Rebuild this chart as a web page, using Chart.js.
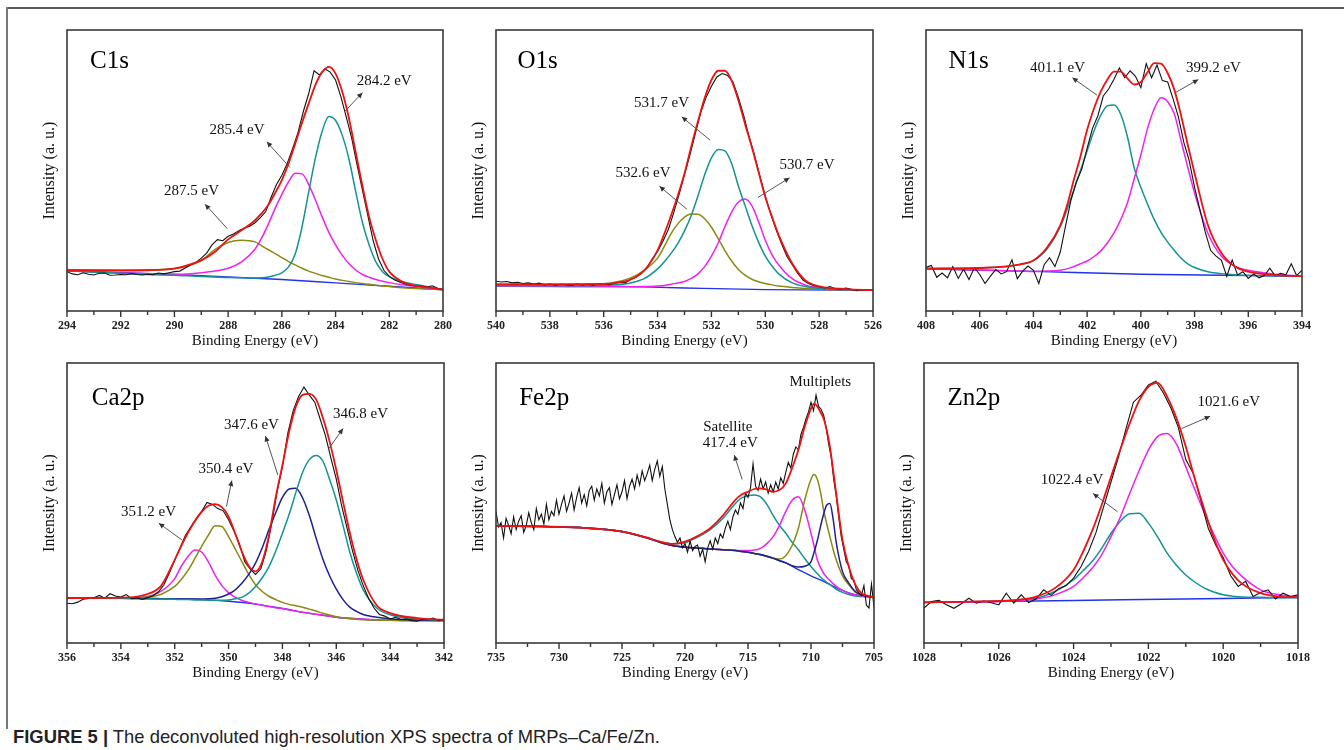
<!DOCTYPE html>
<html>
<head>
<meta charset="utf-8">
<title>FIGURE 5 - XPS spectra of MRPs–Ca/Fe/Zn</title>
<script src="https://cdn.jsdelivr.net/npm/chart.js@4.4.1/dist/chart.umd.min.js"></script>
<style>
  html, body { margin: 0; padding: 0; background: #fff; }
  body { width: 1344px; height: 750px; position: relative; overflow: hidden; }
  canvas { position: absolute; }
  .rule-top { position: absolute; left: 7px; top: 7px; width: 1337px; height: 2px; background: #5a5a5a; }
  .rule-left { position: absolute; left: 6px; top: 7px; width: 2px; height: 722px; background: #777; }
  .caption { position: absolute; left: 13px; top: 727px; font: 18.4px "Liberation Sans", Arial, sans-serif; color: #222; line-height: 20px; white-space: nowrap; }
  .caption b { font-weight: bold; }
</style>
</head>
<body>
<div class="rule-top"></div>
<div class="rule-left"></div>

<canvas id="c1s"  width="433" height="335" style="left:27px;top:20px"></canvas>
<canvas id="o1s"  width="434" height="335" style="left:456px;top:20px"></canvas>
<canvas id="n1s"  width="433" height="335" style="left:886px;top:20px"></canvas>
<canvas id="ca2p" width="434" height="334" style="left:27px;top:353px"></canvas>
<canvas id="fe2p" width="435" height="334" style="left:456px;top:353px"></canvas>
<canvas id="zn2p" width="434" height="334" style="left:884px;top:353px"></canvas>

<div class="caption"><b>FIGURE 5 |</b> The deconvoluted high-resolution XPS spectra of MRPs–Ca/Fe/Zn.</div>

<script>
// ---- values (intensity in % of plot height) ----

// C1s
const c1sTicks = [294, 292, 290, 288, 286, 284, 282, 280];
const c1sFitEv = [294, 292, 291, 290, 289.5, 289, 288.5, 288, 287.5, 287, 286.75, 286.5, 286.25, 286, 285.75, 285.5, 285.25, 285, 284.75, 284.5, 284.25, 284, 283.75, 283.5, 283.25, 283, 282.75, 282.5, 282.25, 282, 281.5, 281, 280.5, 280];
const c1sEnvelope = [14.5, 14.4, 14.5, 15.1, 16.3, 18.0, 21.0, 25.5, 28.7, 32.3, 34.8, 37.8, 42.0, 46.6, 52.5, 59.6, 67.0, 73.9, 80.5, 85.0, 86.9, 84.5, 78.0, 68.5, 56.5, 44.5, 33.5, 25.2, 18.5, 14.0, 10.4, 8.9, 8.3, 7.6];
const c1sPeak2842 = [14.3, 13.4, 13.0, 12.7, 12.5, 12.3, 12.1, 11.9, 11.8, 11.7, 11.8, 12.1, 12.7, 13.6, 15.7, 20.4, 29.9, 42.4, 54.5, 64.0, 69.2, 67.8, 62.5, 54.0, 42.5, 31.5, 23.5, 17.5, 14.0, 12.2, 10.4, 9.4, 8.5, 7.6];
const c1sPeak2854 = [14.3, 13.5, 13.3, 13.1, 13.2, 13.6, 14.2, 15.2, 17.5, 22.0, 26.0, 31.0, 36.5, 41.5, 46.0, 49.0, 48.8, 45.0, 39.5, 33.5, 28.0, 23.5, 19.8, 16.8, 14.6, 13.0, 12.0, 11.2, 10.6, 10.1, 9.3, 8.7, 8.2, 7.8];
const c1sPeak2875 = [14.7, 14.6, 14.6, 15.1, 16.0, 18.0, 21.8, 24.4, 25.2, 24.6, 23.2, 21.8, 20.4, 19.0, 17.6, 16.4, 15.2, 14.2, 13.4, 12.6, 12.0, 11.4, 10.9, 10.5, 10.1, 9.8, 9.5, 9.2, 8.9, 8.7, 8.3, 8.0, 7.8, 7.6];
const c1sBaseEv = [294, 290, 286, 284, 282, 280];
const c1sBase = [14.3, 13.0, 11.2, 10.0, 8.8, 7.6];
const c1sRawStart = 294, c1sRawStep = -0.2;
const c1sRaw = [14.0, 13.2, 12.9, 13.6, 13.1, 12.8, 13.4, 13.5, 12.7, 12.8,
  13.0, 12.9, 13.3, 13.0, 12.8, 13.1, 12.9, 13.5, 13.2, 13.6,
  14.0, 14.2, 15.3, 16.4, 17.3, 18.8, 20.6, 23.5, 25.4, 25.0,
  26.6, 27.4, 28.6, 29.5, 30.2, 31.4, 33.2, 35.4, 40.5, 45.0,
  48.3, 52.5, 57.8, 63.5, 71.0, 77.4, 85.5, 84.0, 86.2, 85.0,
  82.2, 76.2, 69.0, 61.5, 52.0, 43.0, 34.0, 25.0, 18.5, 14.5,
  12.3, 11.0, 10.2, 9.6, 9.2, 9.0, 8.9, 8.5, 9.0, 8.1,
  7.6];

// O1s
const o1sTicks = [540, 538, 536, 534, 532, 530, 528, 526];
const o1sFitEv = [540, 538, 536, 535.5, 535, 534.5, 534, 533.75, 533.5, 533.25, 533, 532.75, 532.5, 532.25, 532, 531.75, 531.5, 531.25, 531, 530.75, 530.5, 530.25, 530, 529.75, 529.5, 529, 528.5, 528, 527, 526];
const o1sEnvelope = [9.5, 9.5, 9.6, 10.1, 11.2, 14.4, 21.6, 27.5, 34.0, 41.0, 48.9, 58.5, 67.5, 75.8, 82.2, 85.5, 85.5, 82.0, 75.0, 66.5, 58.4, 49.5, 40.6, 33.5, 27.0, 16.9, 10.8, 8.8, 7.8, 7.4];
const o1sPeak5326 = [9.5, 9.5, 9.7, 10.4, 11.8, 14.5, 18.8, 23.0, 27.5, 31.0, 33.4, 34.5, 34.4, 32.8, 29.8, 25.8, 21.5, 17.8, 14.8, 12.8, 11.3, 10.4, 9.8, 9.3, 8.9, 8.4, 8.0, 7.7, 7.5, 7.4];
const o1sPeak5317 = [9.0, 9.0, 9.1, 9.4, 10.0, 11.5, 15.0, 17.5, 20.5, 24.0, 28.5, 34.0, 41.0, 48.5, 54.5, 57.5, 57.0, 52.5, 44.5, 37.5, 30.5, 24.5, 19.5, 16.0, 13.2, 10.0, 8.7, 8.0, 7.6, 7.4];
const o1sPeak5307 = [8.8, 8.7, 8.6, 8.6, 8.6, 8.7, 8.9, 9.1, 9.5, 10.0, 10.5, 11.6, 13.2, 15.8, 19.5, 24.2, 30.0, 35.2, 38.8, 39.9, 37.5, 31.8, 25.2, 20.0, 16.4, 11.5, 9.2, 8.3, 7.6, 7.4];
const o1sBaseEv = [540, 536, 533, 530, 526];
const o1sBase = [9.3, 8.9, 8.2, 7.6, 7.4];
const o1sRawStart = 540, o1sRawStep = -0.2;
const o1sRaw = [10.6, 10.3, 10.5, 10.0, 10.2, 9.8, 10.0, 9.6, 9.9, 9.3,
  9.6, 9.2, 9.5, 9.4, 9.1, 9.6, 9.3, 9.5, 9.2, 9.6,
  9.8, 9.4, 9.9, 10.2, 10.0, 11.2, 12.0, 13.5, 15.3, 18.5,
  21.2, 24.8, 29.0, 35.0, 41.5, 48.5, 55.5, 63.0, 70.5, 76.0,
  80.0, 83.3, 84.5, 83.8, 81.5, 76.0, 69.5, 62.0, 55.5, 48.0,
  41.0, 34.5, 29.0, 24.0, 19.5, 16.5, 13.5, 11.0, 9.8, 9.0,
  8.6, 8.2, 8.7, 7.9, 7.8, 8.2, 7.7, 7.2, 7.6, 7.3,
  7.4];

// N1s
const n1sTicks = [408, 406, 404, 402, 400, 398, 396, 394];
const n1sFitEv = [408, 406, 405, 404.5, 404, 403.5, 403, 402.75, 402.5, 402.25, 402, 401.75, 401.5, 401.25, 401, 400.75, 400.5, 400.25, 400, 399.75, 399.5, 399.25, 399, 398.75, 398.5, 398.25, 398, 397.5, 397, 396.5, 396, 395, 394];
const n1sEnvelope = [15.1, 15.3, 15.9, 16.6, 18.0, 22.5, 30.5, 37.5, 46.5, 55.0, 64.5, 72.0, 78.0, 82.3, 85.2, 85.2, 82.8, 80.6, 81.5, 85.0, 88.2, 88.0, 84.6, 78.6, 69.5, 59.0, 49.0, 30.5, 20.6, 15.8, 14.0, 12.8, 12.4];
const n1sPeak4011 = [15.1, 15.3, 15.8, 16.5, 18.0, 22.0, 30.0, 36.0, 43.0, 50.0, 57.0, 64.0, 69.5, 73.0, 73.3, 70.0, 62.0, 51.0, 44.0, 38.0, 32.5, 28.0, 24.5, 21.5, 18.8, 16.8, 15.5, 14.0, 13.3, 12.9, 12.7, 12.5, 12.4];
const n1sPeak3992 = [15.1, 14.6, 14.3, 14.2, 14.1, 14.2, 14.5, 15.0, 15.8, 16.8, 17.8, 19.3, 21.3, 24.2, 27.8, 32.5, 38.5, 47.0, 55.5, 65.0, 72.0, 75.9, 74.5, 70.0, 60.5, 51.0, 42.0, 27.6, 19.5, 16.0, 14.5, 13.1, 12.4];
const n1sBaseEv = [408, 404, 400, 396, 394];
const n1sBase = [15.0, 14.1, 13.1, 12.6, 12.4];
const n1sRawStart = 408, n1sRawStep = -0.2;
const n1sRaw = [15.5, 16.2, 12.0, 13.5, 11.8, 15.8, 11.6, 14.9, 11.2, 15.4,
  13.0, 9.8, 12.4, 14.8, 13.2, 14.0, 18.2, 11.5, 14.2, 16.0,
  14.5, 9.8, 16.5, 19.0, 15.8, 21.0, 30.5, 39.5, 46.0, 50.5,
  58.0, 65.0, 69.5, 76.5, 79.0, 82.5, 86.5, 83.0, 85.5, 83.5,
  79.5, 88.0, 83.0, 87.5, 82.0, 81.5, 75.5, 69.0, 60.0, 53.5,
  44.0, 36.0, 28.0, 21.5, 19.5, 18.0, 12.3, 18.2, 12.8, 14.0,
  11.6, 13.2, 11.8, 12.6, 15.2, 12.5, 13.4, 12.9, 16.8, 12.6,
  14.5];

// Ca2p
const ca2pTicks = [356, 354, 352, 350, 348, 346, 344, 342];
const ca2pFitEv = [356, 354, 353, 352.5, 352, 351.75, 351.5, 351.25, 351, 350.75, 350.5, 350.25, 350, 349.75, 349.5, 349.25, 349, 348.75, 348.5, 348.25, 348, 347.75, 347.5, 347.25, 347, 346.75, 346.5, 346.25, 346, 345.75, 345.5, 345.25, 345, 344.5, 344, 343, 342];
const ca2pEnvelope = [16.0, 16.2, 17.5, 20.5, 29.7, 34.8, 39.5, 43.5, 46.8, 49.0, 49.6, 48.5, 45.1, 39.0, 32.5, 27.5, 25.6, 29.0, 38.5, 52.0, 63.5, 75.5, 84.5, 88.6, 89.0, 87.0, 80.5, 72.0, 61.8, 50.5, 39.5, 30.0, 22.6, 13.5, 10.7, 8.9, 8.3];
const ca2pPeak3512 = [16.0, 16.0, 16.6, 18.5, 23.0, 27.5, 31.0, 33.2, 32.5, 29.0, 24.2, 20.5, 18.0, 16.3, 15.2, 14.5, 13.9, 13.5, 13.0, 12.6, 12.3, 11.8, 11.4, 11.0, 10.6, 10.3, 10.0, 9.6, 9.2, 9.0, 8.8, 8.6, 8.5, 8.3, 8.1, 8.0, 8.0];
const ca2pPeak3504 = [16.0, 16.0, 16.4, 17.4, 20.2, 22.8, 26.0, 30.2, 34.5, 38.5, 41.9, 41.6, 38.0, 33.5, 29.0, 24.5, 20.8, 18.4, 16.7, 15.5, 14.5, 13.8, 13.3, 12.8, 12.1, 11.4, 10.6, 10.0, 9.4, 9.0, 8.7, 8.5, 8.3, 8.2, 8.1, 8.0, 8.0];
const ca2pPeak3476 = [16.0, 16.0, 15.9, 15.8, 15.8, 15.7, 15.7, 15.7, 15.7, 15.8, 16.0, 16.5, 17.5, 19.0, 21.4, 24.5, 28.5, 34.0, 40.5, 46.5, 52.0, 55.0, 55.3, 51.8, 45.5, 37.5, 30.0, 24.0, 19.2, 15.5, 12.8, 11.3, 10.2, 9.2, 8.7, 8.2, 8.0];
const ca2pPeak3468 = [16.0, 16.0, 15.8, 15.7, 15.6, 15.5, 15.5, 15.4, 15.4, 15.3, 15.3, 15.3, 15.4, 15.8, 16.4, 17.8, 20.2, 23.3, 27.3, 32.8, 39.2, 46.0, 53.8, 61.0, 65.5, 67.0, 65.0, 58.5, 51.1, 42.0, 32.5, 25.0, 19.0, 12.5, 10.1, 8.6, 8.1];
const ca2pBaseEv = [356, 352, 351, 350, 349, 348, 347, 346, 345, 344, 342];
const ca2pBase = [16.0, 15.8, 15.5, 14.9, 13.9, 12.3, 10.6, 9.2, 8.5, 8.1, 8.0];
const ca2pRawStart = 356, ca2pRawStep = -0.2;
const ca2pRaw = [14.2, 14.0, 14.6, 15.6, 15.9, 16.2, 17.0, 16.0, 17.6, 16.8,
  16.4, 17.3, 15.8, 16.1, 15.6, 16.2, 17.0, 18.3, 20.8, 25.0,
  29.5, 34.0, 38.5, 41.5, 44.5, 47.0, 50.2, 49.5, 48.0, 47.2,
  44.0, 40.0, 35.5, 29.0, 26.5, 24.5, 26.5, 33.0, 42.5, 54.0,
  63.0, 75.0, 83.0, 88.0, 91.4, 88.5, 86.0, 80.0, 74.0, 66.0,
  58.5, 49.0, 41.0, 33.0, 26.0, 20.5, 16.0, 12.5, 10.2, 9.6,
  8.6, 9.2, 8.4, 8.6, 8.0, 7.8, 8.5, 8.3, 8.9, 8.0,
  8.4];

// Fe2p
const fe2pTicks = [735, 730, 725, 720, 715, 710, 705];
const fe2pFitEv = [735, 730, 727, 725, 723, 722, 721, 720, 719, 718, 717, 716, 715.5, 715, 714.5, 714, 713.5, 713, 712.5, 712, 711.5, 711, 710.5, 710, 709.75, 709.5, 709.25, 709, 708.75, 708.5, 708.25, 708, 707.5, 707, 706.5, 706, 705];
const fe2pEnvelope = [41.8, 41.5, 40.8, 39.8, 37.6, 36.2, 35.4, 36.2, 38.2, 41.0, 45.5, 51.1, 53.0, 54.0, 55.0, 55.2, 54.8, 54.0, 54.6, 57.0, 62.5, 68.9, 77.2, 83.7, 85.5, 84.5, 82.5, 80.2, 76.0, 70.1, 62.0, 53.4, 36.8, 27.3, 21.0, 17.8, 16.4];
const fe2pSatellite = [41.8, 41.5, 40.8, 39.8, 37.6, 36.2, 35.4, 35.8, 37.8, 40.5, 44.5, 49.8, 51.8, 52.6, 52.9, 52.2, 49.5, 45.5, 42.0, 39.2, 36.0, 33.3, 30.2, 27.3, 26.0, 24.8, 23.6, 22.6, 21.7, 20.9, 20.0, 19.2, 18.1, 17.3, 16.8, 16.6, 16.4];
const fe2pMulti1 = [41.8, 41.5, 40.8, 39.8, 37.5, 36.0, 34.8, 34.2, 33.9, 33.6, 33.3, 33.1, 33.0, 33.0, 33.2, 33.8, 35.5, 38.0, 42.0, 47.0, 51.0, 52.2, 47.5, 39.2, 34.5, 29.7, 27.0, 24.9, 23.5, 22.3, 21.2, 20.2, 18.8, 17.8, 17.2, 16.9, 16.4];
const fe2pMulti2 = [41.8, 41.5, 40.8, 39.8, 37.5, 36.0, 34.8, 34.2, 33.9, 33.6, 33.3, 33.0, 32.7, 32.4, 32.0, 31.6, 31.0, 30.3, 30.0, 31.2, 34.8, 41.0, 51.0, 58.5, 60.2, 58.5, 54.0, 47.5, 42.5, 38.0, 33.5, 29.7, 24.0, 20.8, 18.2, 17.2, 16.4];
const fe2pMulti3 = [41.8, 41.5, 40.8, 39.8, 37.5, 36.0, 34.8, 34.2, 33.9, 33.6, 33.3, 33.0, 32.7, 32.4, 32.0, 31.6, 31.0, 30.3, 29.4, 28.6, 27.6, 27.1, 27.4, 29.0, 32.5, 36.5, 41.5, 46.0, 49.3, 49.8, 44.5, 36.0, 25.5, 21.4, 18.5, 17.2, 16.4];
const fe2pBaseEv = [735, 730, 727, 725, 723, 721, 720, 718, 716, 714, 713, 712, 711, 710, 709, 708, 707, 706, 705];
const fe2pBase = [41.8, 41.5, 40.8, 39.8, 37.5, 34.8, 34.2, 33.6, 33.0, 31.5, 30.2, 28.6, 26.2, 24.0, 22.0, 19.8, 17.9, 16.8, 16.4];
const fe2pRawStart = 735, fe2pRawStep = -0.2;
const fe2pRaw = [47.0, 41.5, 43.0, 37.5, 44.5, 42.0, 39.0, 45.0, 40.5, 43.5,
  45.5, 39.5, 42.0, 46.5, 43.0, 40.5, 48.0, 44.0, 46.0, 42.5,
  49.5, 44.0, 47.0, 45.5, 51.0, 46.0, 49.5, 52.5, 47.0, 50.0,
  53.5, 47.5, 52.0, 55.5, 50.0, 53.0, 49.0, 54.5, 56.0, 51.0,
  55.0, 52.5, 57.0, 50.0, 54.0, 55.5, 49.5, 53.0, 56.5, 51.5,
  54.0, 58.0, 51.5, 56.0, 58.5, 55.0, 60.0, 56.5, 61.5, 58.0,
  60.5, 63.5, 58.0, 62.0, 65.0, 59.5, 63.0, 55.0, 49.5, 44.0,
  40.5, 38.0, 36.0, 37.5, 34.0, 35.5, 32.5, 36.5, 33.0, 34.5,
  35.0, 31.0, 33.5, 29.0, 34.0, 36.5, 33.5, 37.5, 35.5, 39.0,
  37.5, 41.0, 43.5, 40.5, 45.0, 47.5, 46.0, 50.0, 48.0, 53.5,
  52.0, 55.5, 64.0, 56.0, 54.5, 58.5, 55.0, 57.5, 53.5, 56.5,
  54.0, 57.5, 55.0, 59.0, 57.0, 61.0, 64.5, 62.5, 67.5, 70.0,
  69.0, 74.5, 77.0, 80.0, 82.5, 86.0, 83.0, 88.5, 84.5, 83.5,
  81.5, 77.0, 71.0, 66.5, 58.5, 52.5, 45.0, 38.0, 33.5, 29.0,
  27.5, 23.0, 22.5, 19.0, 18.0, 17.0, 20.5, 13.5, 12.5, 21.0,
  12.8];

// Zn2p
const zn2pTicks = [1028, 1026, 1024, 1022, 1020, 1018];
const zn2pFitEv = [1028, 1027, 1026, 1025.5, 1025, 1024.5, 1024, 1023.75, 1023.5, 1023.25, 1023, 1022.75, 1022.5, 1022.25, 1022, 1021.75, 1021.5, 1021.25, 1021, 1020.75, 1020.5, 1020.25, 1020, 1019.75, 1019.5, 1019, 1018.5, 1018];
const zn2pEnvelope = [14.5, 14.7, 15.0, 15.4, 16.6, 19.6, 26.1, 32.5, 40.2, 49.3, 59.4, 69.2, 78.4, 86.5, 91.5, 92.9, 88.0, 80.3, 70.1, 58.2, 47.5, 37.5, 29.7, 24.6, 21.2, 17.8, 16.6, 16.3];
const zn2pPeak10224 = [14.5, 14.7, 15.0, 15.4, 16.0, 18.4, 22.6, 25.8, 29.2, 33.8, 39.2, 43.5, 46.2, 46.3, 42.8, 37.8, 32.1, 27.8, 24.3, 21.7, 19.6, 18.2, 17.2, 16.7, 16.4, 16.3, 16.2, 16.2];
const zn2pPeak10216 = [14.5, 14.6, 14.8, 15.2, 15.7, 17.2, 20.2, 23.2, 26.8, 31.5, 38.0, 45.0, 53.4, 61.5, 68.9, 73.8, 74.8, 71.0, 62.9, 54.5, 46.3, 38.8, 32.1, 27.2, 23.8, 19.0, 17.2, 16.4];
const zn2pBaseEv = [1028, 1024, 1020, 1018];
const zn2pBase = [14.5, 15.2, 15.9, 16.3];
const zn2pRawStart = 1028, zn2pRawStep = -0.2;
const zn2pRaw = [12.5, 14.8, 15.2, 13.7, 12.4, 14.0, 16.0, 14.2, 15.0, 14.4,
  13.6, 17.8, 14.2, 17.2, 14.4, 15.8, 19.0, 17.0, 19.4, 20.5,
  23.2, 27.3, 32.7, 39.5, 48.5, 57.5, 66.5, 76.5, 86.0, 88.5,
  92.2, 93.5, 89.3, 84.0, 77.0, 65.5, 60.5, 51.0, 41.0, 35.0,
  30.5, 24.0, 20.2, 22.0, 16.6, 18.0, 19.0, 15.7, 17.8, 16.6,
  17.2];

// ---- drawing ----
const SERIF = '"Liberation Serif", "Times New Roman", "DejaVu Serif", serif';
const COL = {
  raw: '#111111', fit: '#ee1111', teal: '#159393', magenta: '#ee22ee',
  olive: '#8a8a12', navy: '#1f1f8f', base: '#2233ee'
};

function pts(ev, vals) {
  return ev.map((e, i) => ({ x: e, y: vals[i] }));
}
function rawPts(start, step, vals) {
  return vals.map((v, i) => ({ x: +(start + step * i).toFixed(2), y: v }));
}
function curve(data, color, width) {
  return { data, borderColor: color, borderWidth: width, pointRadius: 0, fill: false, cubicInterpolationMode: 'monotone' };
}
function noisy(data) {
  return { data, borderColor: COL.raw, borderWidth: 1.1, pointRadius: 0, fill: false, tension: 0 };
}

// frame, minor ticks, panel name, peak labels and arrows
function decor(p) {
  return {
    id: 'decor',
    afterDraw(chart) {
      const { ctx, chartArea: a, scales: { x, y } } = chart;
      ctx.save();
      ctx.strokeStyle = '#333';
      ctx.lineWidth = 1.4;
      ctx.beginPath();
      p.ticks.forEach((v, i) => {
        const px = x.getPixelForValue(v);
        ctx.moveTo(px, a.bottom); ctx.lineTo(px, a.bottom + 6);
        if (i < p.ticks.length - 1) {
          const pm = x.getPixelForValue((v + p.ticks[i + 1]) / 2);
          ctx.moveTo(pm, a.bottom); ctx.lineTo(pm, a.bottom + 4);
        }
      });
      ctx.stroke();

      ctx.lineWidth = 1.6;
      ctx.strokeStyle = '#3a3a3a';
      ctx.strokeRect(a.left, a.top, a.right - a.left, a.bottom - a.top);

      ctx.fillStyle = '#000';
      ctx.textBaseline = 'middle';
      ctx.textAlign = 'left';
      ctx.font = '25px ' + SERIF;
      ctx.fillText(p.name, x.getPixelForValue(p.nameAt[0]), y.getPixelForValue(p.nameAt[1]));

      ctx.textAlign = 'center';
      ctx.font = '15px ' + SERIF;
      ctx.fillStyle = '#111';
      p.labels.forEach(([t, lx, ly]) => ctx.fillText(t, x.getPixelForValue(lx), y.getPixelForValue(ly)));

      ctx.strokeStyle = '#555';
      ctx.fillStyle = '#333';
      ctx.lineWidth = 1;
      p.arrows.forEach(([x0, y0, x1, y1]) => {
        const ax = x.getPixelForValue(x0), ay = y.getPixelForValue(y0);
        const bx = x.getPixelForValue(x1), by = y.getPixelForValue(y1);
        const ang = Math.atan2(by - ay, bx - ax);
        ctx.beginPath(); ctx.moveTo(ax, ay); ctx.lineTo(bx, by); ctx.stroke();
        ctx.beginPath();
        ctx.moveTo(bx, by);
        ctx.lineTo(bx - 6 * Math.cos(ang - 0.45), by - 6 * Math.sin(ang - 0.45));
        ctx.lineTo(bx - 6 * Math.cos(ang + 0.45), by - 6 * Math.sin(ang + 0.45));
        ctx.closePath(); ctx.fill();
      });
      ctx.restore();
    }
  };
}

function makeChart(id, p) {
  new Chart(document.getElementById(id), {
    type: 'line',
    data: { datasets: p.datasets },
    options: {
      responsive: false,
      animation: false,
      events: [],
      layout: { padding: { left: 0, top: 10, right: 14, bottom: 0 } },
      plugins: { legend: { display: false }, tooltip: { enabled: false } },
      scales: {
        x: {
          type: 'linear', reverse: true,
          min: Math.min(...p.ticks), max: Math.max(...p.ticks),
          afterBuildTicks: s => { s.ticks = p.ticks.map(v => ({ value: v })); },
          afterFit: s => { s.height = 44; },
          grid: { display: false, drawTicks: false },
          border: { display: false },
          ticks: { padding: 8, autoSkip: false, maxRotation: 0, color: '#222',
                   font: { family: SERIF, size: 12, weight: 'bold' }, callback: v => String(v) },
          title: { display: true, text: 'Binding Energy (eV)', color: '#111',
                   font: { family: SERIF, size: 15 }, padding: { top: 0, bottom: 5 } }
        },
        y: {
          min: 0, max: 100,
          afterFit: s => { s.width = 40; },
          grid: { display: false, drawTicks: false },
          border: { display: false },
          ticks: { display: false },
          title: { display: true, text: 'Intensity (a. u.)', color: '#111',
                   font: { family: SERIF, size: 16 }, padding: { top: 13, bottom: 0 } }
        }
      }
    },
    plugins: [decor(p)]
  });
}

makeChart('c1s', {
  name: 'C1s', nameAt: [293.14, 88.7], ticks: c1sTicks,
  labels: [['284.2 eV', 282.19, 81.9], ['285.4 eV', 287.67, 64.4], ['287.5 eV', 289.36, 42.6]],
  arrows: [[283.67, 70.9, 283.0, 77.7], [285.7, 51.1, 286.56, 60.2], [288.03, 29.3, 288.86, 38.0]],
  datasets: [
    curve(pts(c1sFitEv, c1sEnvelope), COL.fit, 1.8),
    noisy(rawPts(c1sRawStart, c1sRawStep, c1sRaw)),
    curve(pts(c1sFitEv, c1sPeak2842), COL.teal, 1.5),
    curve(pts(c1sFitEv, c1sPeak2854), COL.magenta, 1.5),
    curve(pts(c1sFitEv, c1sPeak2875), COL.olive, 1.5),
    curve(pts(c1sBaseEv, c1sBase), COL.base, 1.4)
  ]
});

makeChart('o1s', {
  name: 'O1s', nameAt: [539.2, 88.7], ticks: o1sTicks,
  labels: [['531.7 eV', 533.85, 74.1], ['532.6 eV', 534.54, 49.2], ['530.7 eV', 528.45, 51.8]],
  arrows: [[532.05, 60.8, 533.1, 69.1], [532.91, 36.2, 533.93, 44.4], [530.27, 40.4, 529.1, 47.4]],
  datasets: [
    curve(pts(o1sFitEv, o1sEnvelope), COL.fit, 1.8),
    noisy(rawPts(o1sRawStart, o1sRawStep, o1sRaw)),
    curve(pts(o1sFitEv, o1sPeak5317), COL.teal, 1.5),
    curve(pts(o1sFitEv, o1sPeak5307), COL.magenta, 1.5),
    curve(pts(o1sFitEv, o1sPeak5326), COL.olive, 1.5),
    curve(pts(o1sBaseEv, o1sBase), COL.base, 1.4)
  ]
});

makeChart('n1s', {
  name: 'N1s', nameAt: [407.16, 88.7], ticks: n1sTicks,
  labels: [['401.1 eV', 403.1, 86.6], ['399.2 eV', 397.3, 86.6]],
  arrows: [[401.63, 76.8, 402.55, 83.0], [398.7, 77.8, 397.86, 82.4]],
  datasets: [
    curve(pts(n1sFitEv, n1sEnvelope), COL.fit, 1.8),
    noisy(rawPts(n1sRawStart, n1sRawStep, n1sRaw)),
    curve(pts(n1sFitEv, n1sPeak3992), COL.magenta, 1.5),
    curve(pts(n1sFitEv, n1sPeak4011), COL.teal, 1.5),
    curve(pts(n1sBaseEv, n1sBase), COL.base, 1.4)
  ]
});

makeChart('ca2p', {
  name: 'Ca2p', nameAt: [355.08, 87.3], ticks: ca2pTicks,
  labels: [['346.8 eV', 345.1, 81.6], ['347.6 eV', 349.15, 78.0], ['350.4 eV', 350.1, 62.1], ['351.2 eV', 352.97, 46.8]],
  arrows: [[346.3, 69.1, 345.75, 76.6], [348.17, 60.0, 348.63, 73.9], [350.08, 48.7, 349.88, 58.0], [351.73, 36.8, 352.59, 42.8]],
  datasets: [
    curve(pts(ca2pFitEv, ca2pEnvelope), COL.fit, 1.8),
    noisy(rawPts(ca2pRawStart, ca2pRawStep, ca2pRaw)),
    curve(pts(ca2pFitEv, ca2pPeak3468), COL.teal, 1.5),
    curve(pts(ca2pFitEv, ca2pPeak3476), COL.navy, 1.5),
    curve(pts(ca2pFitEv, ca2pPeak3504), COL.olive, 1.5),
    curve(pts(ca2pFitEv, ca2pPeak3512), COL.magenta, 1.5),
    curve(pts(ca2pBaseEv, ca2pBase), COL.base, 1.4)
  ]
});

makeChart('fe2p', {
  name: 'Fe2p', nameAt: [733.16, 87.3], ticks: fe2pTicks,
  labels: [['Multiplets', 709.26, 93.1], ['Satellite', 716.6, 77.2], ['417.4 eV', 716.4, 71.3]],
  arrows: [[715.46, 58.4, 716.09, 67.1]],
  datasets: [
    curve(pts(fe2pFitEv, fe2pEnvelope), COL.fit, 1.8),
    noisy(rawPts(fe2pRawStart, fe2pRawStep, fe2pRaw)),
    curve(pts(fe2pFitEv, fe2pMulti3), COL.navy, 1.5),
    curve(pts(fe2pFitEv, fe2pMulti2), COL.olive, 1.5),
    curve(pts(fe2pFitEv, fe2pMulti1), COL.magenta, 1.5),
    curve(pts(fe2pFitEv, fe2pSatellite), COL.teal, 1.5),
    curve(pts(fe2pBaseEv, fe2pBase), COL.base, 1.4)
  ]
});

makeChart('zn2p', {
  name: 'Zn2p', nameAt: [1027.37, 87.3], ticks: zn2pTicks,
  labels: [['1021.6 eV', 1019.85, 85.9], ['1022.4 eV', 1024.04, 58.2]],
  arrows: [[1021.11, 76.6, 1020.35, 81.0], [1022.83, 46.9, 1023.48, 53.4]],
  datasets: [
    curve(pts(zn2pFitEv, zn2pEnvelope), COL.fit, 1.8),
    noisy(rawPts(zn2pRawStart, zn2pRawStep, zn2pRaw)),
    curve(pts(zn2pFitEv, zn2pPeak10216), COL.magenta, 1.5),
    curve(pts(zn2pFitEv, zn2pPeak10224), COL.teal, 1.5),
    curve(pts(zn2pBaseEv, zn2pBase), COL.base, 1.4)
  ]
});
</script>
</body>
</html>
